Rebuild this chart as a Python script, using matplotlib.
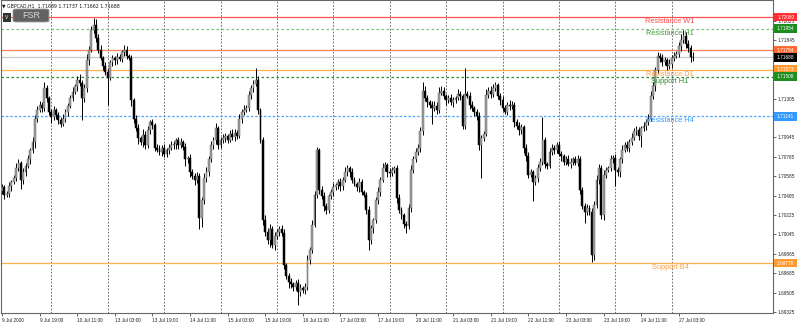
import matplotlib
matplotlib.use('Agg')
import matplotlib.pyplot as plt
import matplotlib.transforms as mtransforms
from matplotlib.patches import Rectangle, FancyBboxPatch

# ---- data (GBPCAD H1, 9 Jul 03:00 .. 27 Jul 2020) ----
header = "\u25bc GBPCAD,H1  1.71689 1.71737 1.71662 1.71688"
first_open = 1.7045
close = [
    1.7048, 1.7041, 1.7042, 1.7049, 1.7053, 1.7057, 1.7066, 1.7071, 1.7055, 1.7062,
    1.7068, 1.7074, 1.7083, 1.7090, 1.7112, 1.7120, 1.7125, 1.7122, 1.7140, 1.7131,
    1.7118, 1.7113, 1.7120, 1.7115, 1.7111, 1.7107, 1.7112, 1.7118, 1.7124, 1.7131,
    1.7137, 1.7142, 1.7148, 1.7145, 1.7131, 1.7140, 1.7166, 1.7176, 1.7194, 1.7199,
    1.7187, 1.7176, 1.7168, 1.7161, 1.7155, 1.7150, 1.7164, 1.7168, 1.7166, 1.7169,
    1.7167, 1.7174, 1.7176, 1.7170, 1.7168, 1.7129, 1.7112, 1.7103, 1.7094, 1.7090,
    1.7097, 1.7087, 1.7101, 1.7109, 1.7106, 1.7085, 1.7083, 1.7081, 1.7085, 1.7079,
    1.7083, 1.7085, 1.7087, 1.7088, 1.7092, 1.7087, 1.7090, 1.7086, 1.7074, 1.7075,
    1.7062, 1.7059, 1.7055, 1.7059, 1.7020, 1.7036, 1.7057, 1.7062, 1.7074, 1.7087,
    1.7092, 1.7103, 1.7087, 1.7092, 1.7094, 1.7096, 1.7092, 1.7098, 1.7095, 1.7099,
    1.7096, 1.7112, 1.7118, 1.7120, 1.7122, 1.7134, 1.7140, 1.7144, 1.7148, 1.7120,
    1.7092, 1.7018, 1.7007, 1.6999, 1.7009, 1.6995, 1.7003, 1.7007, 1.7009, 1.7006,
    1.6976, 1.6966, 1.6960, 1.6958, 1.6956, 1.6959, 1.6951, 1.6955, 1.6953, 1.6956,
    1.6981, 1.6990, 1.7013, 1.7041, 1.7083, 1.7046, 1.7040, 1.7031, 1.7027, 1.7040,
    1.7044, 1.7048, 1.7050, 1.7053, 1.7049, 1.7055, 1.7062, 1.7066, 1.7062, 1.7055,
    1.7051, 1.7048, 1.7053, 1.7044, 1.7041, 1.7027, 1.6999, 1.7010, 1.7018, 1.7036,
    1.7044, 1.7055, 1.7066, 1.7069, 1.7062, 1.7061, 1.7064, 1.7066, 1.7038, 1.7027,
    1.7022, 1.7014, 1.7012, 1.7029, 1.7064, 1.7074, 1.7081, 1.7085, 1.7100, 1.7138,
    1.7131, 1.7127, 1.7125, 1.7122, 1.7124, 1.7120, 1.7136, 1.7138, 1.7133, 1.7129,
    1.7131, 1.7127, 1.7129, 1.7131, 1.7135, 1.7133, 1.7105, 1.7135, 1.7133, 1.7125,
    1.7122, 1.7118, 1.7114, 1.7087, 1.7094, 1.7098, 1.7134, 1.7138, 1.7135, 1.7140,
    1.7143, 1.7133, 1.7129, 1.7122, 1.7118, 1.7125, 1.7124, 1.7125, 1.7109, 1.7105,
    1.7101, 1.7104, 1.7085, 1.7077, 1.7060, 1.7062, 1.7053, 1.7057, 1.7066, 1.7072,
    1.7092, 1.7070, 1.7068, 1.7081, 1.7085, 1.7083, 1.7087, 1.7079, 1.7077, 1.7072,
    1.7074, 1.7070, 1.7072, 1.7074, 1.7071, 1.7074, 1.7046, 1.7031, 1.7025, 1.7029,
    1.7025, 1.6985, 1.7032, 1.7055, 1.7066, 1.7022, 1.7060, 1.7064, 1.7066, 1.7074,
    1.7075, 1.7064, 1.7062, 1.7074, 1.7083, 1.7087, 1.7085, 1.7090, 1.7094, 1.7100,
    1.7101, 1.7096, 1.7103, 1.7105, 1.7109, 1.7112, 1.7133, 1.7142, 1.7157, 1.7170,
    1.7168, 1.7164, 1.7166, 1.7161, 1.7163, 1.7168, 1.7170, 1.7172, 1.7179, 1.7185,
    1.7189, 1.7181, 1.7177, 1.7169, 1.71688,
]
# wick lengths in pips above / below the body
upper_wick = [
    3, 2, 3, 4, 2, 3, 5, 3, 2, 4,  3, 4, 2, 5, 3, 4, 3, 2, 6, 3,
    2, 3, 4, 2, 3, 2, 4, 3, 2, 3,  4, 2, 3, 5, 3, 4, 6, 3, 4, 6,
    5, 3, 4, 2, 3, 4, 2, 3, 2, 4,  3, 2, 4, 3, 2, 3, 2, 3, 4, 2,
    5, 3, 4, 2, 3, 2, 3, 4, 2, 3,  2, 3, 4, 3, 2, 3, 4, 2, 3, 2,
    4, 3, 2, 3, 2, 3, 4, 5, 3, 4,  3, 5, 2, 3, 4, 3, 2, 3, 4, 3,
    2, 4, 3, 5, 3, 4, 3, 4, 11, 3, 2, 3, 4, 3, 5, 3, 4, 2, 3, 4,
    3, 2, 3, 4, 2, 3, 4, 3, 2, 3,  4, 3, 5, 4, 3, 2, 3, 4, 3, 2,
    3, 4, 2, 3, 4, 3, 5, 3, 2, 4,  3, 2, 4, 3, 2, 3, 4, 3, 2, 3,
    4, 3, 5, 3, 2, 4, 3, 2, 3, 4,  3, 2, 3, 4, 5, 3, 4, 3, 4, 8,
    4, 3, 2, 3, 4, 3, 5, 4, 3, 2,  3, 4, 3, 2, 4, 3, 2, 24, 3, 4,
    3, 2, 3, 4, 3, 2, 5, 3, 4, 4,  3, 2, 3, 4, 3, 2, 4, 3, 2, 3,
    4, 3, 2, 3, 4, 3, 2, 3, 4, 3,  21, 3, 2, 4, 3, 2, 3, 4, 3, 2,
    3, 4, 3, 2, 3, 4, 3, 2, 3, 4,  3, 4, 3, 5, 4, 3, 4, 3, 2, 4,
    3, 4, 3, 2, 4, 3, 4, 3, 5, 3,  4, 3, 2, 4, 3, 4, 5, 4, 3, 4,
    3, 4, 3, 2, 4, 3, 4, 3, 4, 5,  5, 3, 4, 3, 5,
]
lower_wick = [
    3, 4, 2, 3, 4, 2, 3, 3, 8, 4,  3, 2, 4, 3, 5, 3, 2, 4, 3, 4,
    3, 5, 2, 3, 4, 3, 2, 3, 4, 2,  3, 2, 4, 3, 20, 4, 3, 4, 2, 3,
    4, 3, 2, 4, 3, 25, 2, 3, 4, 3, 2, 3, 4, 3, 2, 5, 4, 3, 6, 3,
    4, 3, 2, 3, 4, 3, 2, 3, 4, 3,  3, 4, 2, 3, 4, 3, 2, 3, 6, 3,
    4, 3, 5, 3, 11, 9, 3, 4, 3, 2, 3, 4, 3, 2, 3, 4, 3, 2, 3, 4,
    3, 2, 4, 3, 2, 3, 4, 3, 2, 4,  3, 5, 4, 3, 6, 3, 5, 3, 4, 3,
    4, 3, 5, 3, 4, 3, 12, 4, 3, 4, 3, 4, 3, 2, 3, 4, 3, 5, 4, 3,
    3, 4, 2, 3, 4, 3, 2, 3, 4, 3,  2, 3, 4, 3, 2, 4, 9, 3, 4, 3,
    3, 4, 2, 3, 4, 3, 2, 3, 4, 3,  3, 4, 6, 3, 4, 3, 2, 3, 4, 3,
    3, 4, 3, 15, 3, 4, 3, 2, 3, 4, 3, 2, 4, 3, 2, 4, 3, 3, 2, 4,
    3, 4, 3, 4, 30, 3, 2, 3, 4, 3, 2, 3, 4, 3, 2, 3, 4, 3, 5, 3,
    4, 3, 5, 4, 3, 2, 18, 3, 4, 3, 3, 4, 3, 2, 3, 4, 3, 2, 4, 3,
    3, 2, 4, 3, 2, 3, 4, 3, 10, 3, 3, 6, 4, 3, 4, 3, 4, 3, 2, 3,
    3, 15, 3, 4, 3, 2, 3, 4, 3, 2, 3, 4, 10, 3, 4, 3, 2, 3, 4, 3,
    4, 3, 2, 4, 3, 4, 3, 2, 3, 4,  3, 4, 3, 5, 3,
]

tick_bars = [0, 16, 32, 48, 64, 80, 96, 112, 128, 144, 160, 176, 192, 208, 224, 240, 256, 272, 288]
tick_labels = ["9 Jul 2020", "9 Jul 19:00", "10 Jul 11:00", "13 Jul 03:00", "13 Jul 19:00",
               "14 Jul 11:00", "15 Jul 03:00", "15 Jul 19:00", "16 Jul 11:00", "17 Jul 03:00",
               "17 Jul 19:00", "20 Jul 11:00", "21 Jul 03:00", "21 Jul 19:00", "22 Jul 11:00",
               "23 Jul 03:00", "23 Jul 19:00", "24 Jul 11:00", "27 Jul 03:00"]
day_starts = [21, 45, 69, 93, 117, 141, 165, 189, 213, 237, 261, 285]
price_ticks = [1.72025, 1.71845, 1.71665, 1.71485, 1.71305, 1.71125, 1.70945, 1.70765,
               1.70585, 1.70405, 1.70225, 1.70045, 1.69865, 1.69685, 1.69505, 1.69325]
# scale labels hidden under the price boxes on the right
hidden_ticks = [1.71665, 1.71485, 1.71125]

level_prices = [1.72060, 1.71954, 1.71754, 1.71688, 1.71573, 1.71508, 1.71141, 1.69778]
level_names = ["Resistance W1", "Resistance H1", "", "", "Resistance D1", "Support H1",
               "Resistance H4", "Support B4"]

# ---- styles ----
line_colors = ['#ff5050', '#77c077', '#ff7f50', '#c8c8c8', '#ffb050', '#2e8b2e', '#4da6ff', '#ffb050']
line_styles = ['-', (0, (2, 2)), '-', '-', '-', (0, (2, 2)), (0, (2, 1.5)), '-']
box_colors = ['#ff3030', '#1e8c1e', '#ff6a30', '#000000', '#ff9a30', '#1e8c1e', '#3399ff', '#ff9a30']
text_colors = ['#ff4d4d', '#3f9f3f', None, None, '#ffa040', '#2e8b2e', '#3399ff', '#ffa040']

FONT = ['Liberation Sans', 'DejaVu Sans']
plt.rcParams['font.family'] = FONT

W, H = 800, 326
fig = plt.figure(figsize=(W / 100, H / 100), dpi=100)
ax = fig.add_axes([1 / W, (H - 313) / H, 772 / W, 313 / H])

n = len(close)
opens = [first_open] + close[:-1]
xs = list(range(n))
highs = [max(o, c) + u * 1e-4 for o, c, u in zip(opens, close, upper_wick)]
lows = [min(o, c) - d * 1e-4 for o, c, d in zip(opens, close, lower_wick)]

y_top, y_bot = 1.7222, 1.69315
ax.set_ylim(y_bot, y_top)
ax.set_xlim(-0.43, 328.1)

# day separators
ax.vlines(day_starts, y_bot, y_top, colors='#555555', linestyles=(0, (2, 2)), lw=0.6, zorder=1)

# level lines
for p, c, ls in zip(level_prices, line_colors, line_styles):
    ax.axhline(p, color=c, ls=ls, lw=0.9, zorder=1.5)

# candles
ax.vlines(xs, lows, highs, colors='black', lw=0.7, zorder=2)
bottoms = [min(o, c) for o, c in zip(opens, close)]
heights = [max(abs(c - o), 0.00004) for o, c in zip(opens, close)]
fcs = ['#9e9e9e' if c >= o else '#000000' for o, c in zip(opens, close)]
ecs = ['#686868' if c >= o else '#000000' for o, c in zip(opens, close)]
ax.bar(xs, heights, bottom=bottoms, width=0.8, color=fcs, edgecolor=ecs, lw=0.35, zorder=3)

# level names
for p, name, tc in zip(level_prices, level_names, text_colors):
    if name:
        ax.annotate(name, (284.3, p), xytext=(0, -3.3), textcoords='offset points',
                    ha='center', va='center', fontsize=5.3, color=tc, zorder=5)

# axes styling
for s in ax.spines.values():
    s.set_color('#666666')
    s.set_linewidth(0.8)
ax.yaxis.tick_right()
ax.set_yticks(price_ticks)
ax.set_yticklabels(["" if v in hidden_ticks else "%.5f" % v for v in price_ticks])
ax.tick_params(axis='y', direction='out', length=2, width=0.5, labelsize=3.4, pad=1.2, colors='#222222')
ax.set_xticks(tick_bars)
ax.set_xticklabels(tick_labels, ha='left')
ax.tick_params(axis='x', direction='out', length=2, width=0.5, labelsize=3.4, pad=1.5, colors='#222222')

# price boxes on the right scale
trans = mtransforms.blended_transform_factory(ax.transAxes, ax.transData)
bw = 23 / 772
bh = 8.5 / 10775
for p, bc in zip(level_prices, box_colors):
    ax.add_patch(Rectangle((1.0015, p - bh / 2), bw, bh, transform=trans, fc=bc, ec='none',
                           clip_on=False, zorder=10))
    ax.text(1.0015 + bw / 2, p, "%.5f" % p, transform=trans, ha='center', va='center',
            fontsize=3.4, color='white', clip_on=False, zorder=11)

# header + buttons
fig.text(2 / W, 1 - 5.5 / H, header, fontsize=3.3, va='center', ha='left', color='#111111',
         family=['DejaVu Sans'])
fig.patches.append(FancyBboxPatch((13 / W, 1 - 22 / H), 36 / W, 13 / H,
                                  boxstyle='round,pad=0,rounding_size=0.004',
                                  transform=fig.transFigure, fc='#626262', ec='#a0a0a0', lw=0.6))
fig.text(31 / W, 1 - 15.5 / H, "FSR", fontsize=6.5, ha='center', va='center', color='#dcdcdc')
fig.patches.append(Rectangle((3 / W, 1 - 22 / H), 8 / W, 9 / H, transform=fig.transFigure,
                             fc='#333333', ec='none'))
fig.text(7 / W, 1 - 17.5 / H, "V", fontsize=3.5, ha='center', va='center', color='white')

fig.savefig('out.png', dpi=100)
